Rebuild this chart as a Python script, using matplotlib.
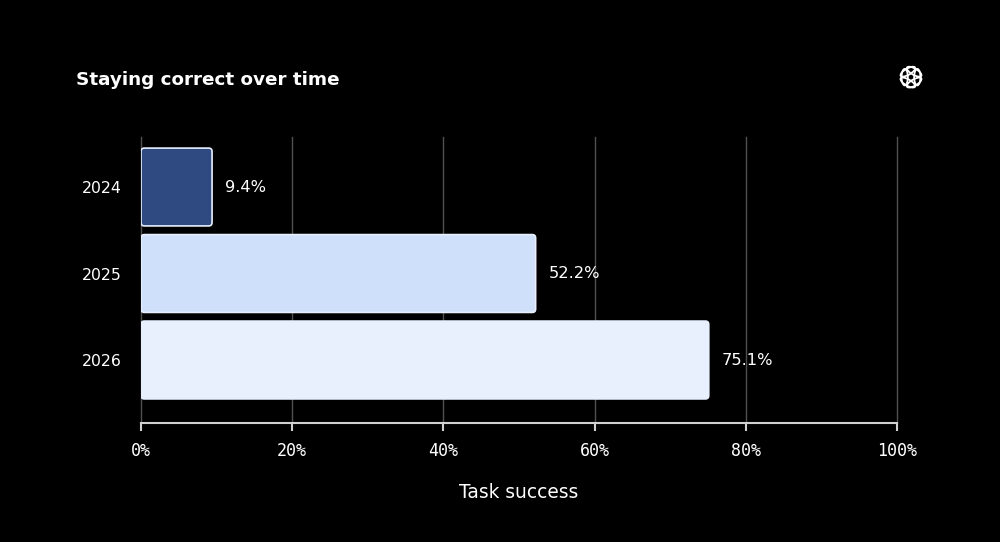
import math
import matplotlib
matplotlib.use("Agg")
import matplotlib.pyplot as plt
from matplotlib.patches import FancyBboxPatch, Ellipse

years = ["2024", "2025", "2026"]
success = [9.4, 52.2, 75.1]
bar_colors = ["#2e4a80", "#cfe0fb", "#e8f0fd"]
x_ticks = [0, 20, 40, 60, 80, 100]

fig = plt.figure(figsize=(10, 5.42), dpi=100, facecolor="black")
ax = fig.add_axes([0.141, 0.2196, 0.756, 0.5276], facecolor="black")

pos = list(range(len(years)))
bars = ax.barh(pos, success, height=0.9, color="none", edgecolor="none")

# swap plain bars for rounded ones, same geometry
px_x = 7.56
px_y = 86.5
for b, c in zip(bars, bar_colors):
    x0, y0 = b.get_x(), b.get_y()
    w, h = b.get_width(), b.get_height()
    r = FancyBboxPatch((x0, y0), w, h,
                       boxstyle="round,pad=0,rounding_size=0.45",
                       mutation_aspect=px_x / px_y,
                       facecolor=c, edgecolor="#e8f0fd", linewidth=1.2,
                       zorder=3)
    ax.add_patch(r)
    b.remove()

for p, v in zip(pos, success):
    ax.annotate(f"{v}%", (v, p), xytext=(9.5, 0), textcoords="offset points",
                va="center", ha="left", color="white", fontsize=11.7)

ax.set_xlim(0, 100)
ax.set_ylim(2.728, -0.578)
ax.set_yticks(pos)
ax.set_yticklabels(years, color="white", fontsize=11.3)
ax.tick_params(axis="y", length=0, pad=13.7)
ax.set_xticks(x_ticks)
ax.set_xticklabels([f"{t}%" for t in x_ticks], family="DejaVu Sans Mono",
                   fontsize=12, color="white")
ax.tick_params(axis="x", length=6, width=1.5, color="#d0d0d0", pad=7.5)

ax.grid(axis="x", color="#505050", linewidth=1, zorder=0)
for gl in ax.get_xgridlines():
    gl.set_clip_on(False)
for s in ["top", "right", "left"]:
    ax.spines[s].set_visible(False)
ax.spines["bottom"].set_color("#d0d0d0")
ax.spines["bottom"].set_linewidth(1.5)
ax.spines["bottom"].set_zorder(4)

ax.set_xlabel("Task success", color="white", fontsize=13.4, labelpad=17)

fig.text(0.076, 0.852, "Staying correct over time", color="white",
         fontsize=13.2, fontweight="bold", va="center", ha="left")

# rough logo in the corner
lax = fig.add_axes([0.896, 0.830, 0.03, 0.0554])
lax.set_xlim(-1, 1)
lax.set_ylim(-1, 1)
lax.set_aspect("equal")
lax.axis("off")
for k in range(6):
    a = math.radians(k * 60)
    lax.add_patch(Ellipse((0.42 * math.cos(a), 0.42 * math.sin(a)), 1.1, 0.42,
                          angle=k * 60 + 90, facecolor="none",
                          edgecolor="white", linewidth=1.3))

fig.savefig("out.png", dpi=100, facecolor="black")
